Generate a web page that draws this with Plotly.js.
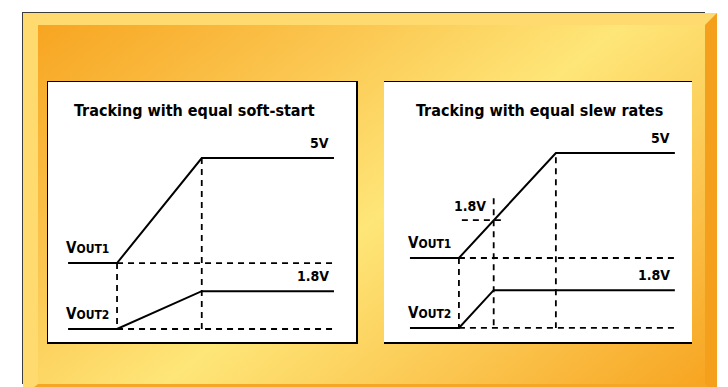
<!DOCTYPE html>
<html>
<head>
<meta charset="utf-8">
<script src="https://cdn.plot.ly/plotly-3.0.1.min.js"></script>
<style>
  html, body { margin:0; padding:0; width:728px; height:387px; overflow:hidden; background:#ffffff; }
  #frame { position:absolute; left:22px; top:12px; width:681px; height:371px;
           border:1px solid #3c3c3c; border-bottom:none; }
  #bevel { position:absolute; left:0; top:0; width:667px; height:359px;
           border-left:15px solid #FEDA6F; border-top:12px solid #FEDA6F;
           border-right:12px solid #F4A01D; border-bottom:12px solid #F6A625;
           background:linear-gradient(142deg, #F7A521 0%, #FBC650 28%, #FEE678 52%, #FBC650 76%, #F7A521 100%); }
  #chart { position:absolute; left:0; top:0; width:728px; height:387px; }
</style>
</head>
<body>
<div id="frame"><div id="bevel"></div></div>
<div id="chart"></div>
<script>
// ---- data (volts vs. time units) ----
const panelTitles = ["Tracking with equal soft-start", "Tracking with equal slew rates"];
const seriesNames = ["VOUT1", "VOUT2"];
const levelLabels = ["5V", "1.8V"];

// Left panel: equal soft-start (both ramps end together)
const tA = [0, 1, 2.73, 5.43];
const vout1A = [0, 0, 5, 5];
const vout2A = [0, 0, 1.8, 1.8];

// Right panel: equal slew rates (VOUT2 reaches 1.8V first)
const tB1 = [0, 1, 2.98, 5.41];
const vout1B = [0, 0, 5, 5];
const tB2 = [0, 1, 1.71, 5.41];
const vout2B = [0, 0, 1.8, 1.8];

// ---- styling / placement ----
const W = 728, H = 387;
const offA = 3.14, offB = 3.33;      // vertical separation of the two traces
const FONT = "'Liberation Sans Narrow', 'DejaVu Sans Condensed', Arial Narrow, sans-serif";
const solid = {color:'#000', width:2};
const dashed = {color:'#000', width:1.8, dash:'6px,5px'};

function add(arr, k){ return arr.map(v => v + k); }
const traces = [];
function line(x, y, ax, ln){
  traces.push({type:'scatter', mode:'lines', x:x, y:y, xaxis:ax[0], yaxis:ax[1],
               line:ln, hoverinfo:'skip', showlegend:false});
}

// Left panel
const axA = ['x','y'];
line(tA, add(vout1A, offA), axA, solid);
line(tA, vout2A, axA, solid);
line([tA[1], tA[3]], [offA + vout1A[1], offA + vout1A[1]], axA, dashed);
line([tA[1], tA[3]], [vout2A[1], vout2A[1]], axA, dashed);
line([tA[1], tA[1]], [offA + vout1A[1], vout2A[1]], axA, dashed);
line([tA[2], tA[2]], [offA + vout1A[2], vout2A[1]], axA, dashed);

// Right panel
const axB = ['x2','y2'];
line(tB1, add(vout1B, offB), axB, solid);
line(tB2, vout2B, axB, solid);
line([tB1[1], tB1[3]], [offB + vout1B[1], offB + vout1B[1]], axB, dashed);
line([tB2[1], tB2[3]], [vout2B[1], vout2B[1]], axB, dashed);
line([tB1[1], tB1[1]], [offB + vout1B[1], vout2B[1]], axB, dashed);
line([tB2[2], tB2[2]], [offB + vout2B[2] + 1.05, vout2B[1]], axB, dashed);
line([tB1[2], tB1[2]], [offB + vout1B[2] - 0.2, vout2B[1]], axB, dashed);
line([tB2[2] - 0.65, tB2[2] + 0.22], [offB + vout2B[2], offB + vout2B[2]], axB, dashed);

function vlabel(name){
  return 'V<span style="font-size:12px">' + name.slice(1) + '</span>';
}
const ann = [];
function txt(text, x, y, xr, yr, xa, ya, xs, ys, size){
  ann.push({text:text, x:x, y:y, xref:xr, yref:yr, xanchor:xa, yanchor:ya,
            xshift:xs||0, yshift:ys||0, showarrow:false,
            font:{family:FONT, size:size||14, color:'#000', weight:'bold'}});
}
// titles
txt('<b>'+panelTitles[0]+'</b>', 0.5, 0.89, 'x domain', 'y domain', 'center', 'middle', -8, 0, 16);
txt('<b>'+panelTitles[1]+'</b>', 0.5, 0.89, 'x2 domain', 'y2 domain', 'center', 'middle', 1, 0, 16);
// left labels
txt('<b>'+levelLabels[0]+'</b>', tA[3], offA + vout1A[3], 'x', 'y', 'right', 'bottom', -3, 5);
txt('<b>'+levelLabels[1]+'</b>', tA[3], vout2A[3], 'x', 'y', 'right', 'bottom', -3, 5);
txt('<b>'+vlabel(seriesNames[0])+'</b>', tA[0], offA + vout1A[0], 'x', 'y', 'left', 'bottom', -4, 4, 15);
txt('<b>'+vlabel(seriesNames[1])+'</b>', tA[0], vout2A[0], 'x', 'y', 'left', 'bottom', -4, 4, 15);
// right labels
txt('<b>'+levelLabels[0]+'</b>', tB1[3], offB + vout1B[3], 'x2', 'y2', 'right', 'bottom', -3, 5);
txt('<b>'+levelLabels[1]+'</b>', tB2[3], vout2B[3], 'x2', 'y2', 'right', 'bottom', -3, 5);
txt('<b>'+levelLabels[1]+'</b>', tB2[2], offB + vout2B[2], 'x2', 'y2', 'right', 'bottom', -6, 4);
txt('<b>'+vlabel(seriesNames[0])+'</b>', tB1[0], offB + vout1B[0], 'x2', 'y2', 'left', 'bottom', -4, 4, 15);
txt('<b>'+vlabel(seriesNames[1])+'</b>', tB2[0], vout2B[0], 'x2', 'y2', 'left', 'bottom', -4, 4, 15);

function axis(dom, rng){
  return {domain:dom, range:rng, showgrid:false, zeroline:false, showticklabels:false,
          ticks:'', showline:true, mirror:true, linecolor:'#000', linewidth:1.5, fixedrange:true};
}
const pLeftA = 48, pRightA = 356, pLeftB = 384, pRightB = 692, pTop = 82, pBot = 342;
const yd = [(H - pBot)/H, (H - pTop)/H];
const layout = {
  width:W, height:H, margin:{l:0, r:0, t:0, b:0},
  paper_bgcolor:'rgba(0,0,0,0)', plot_bgcolor:'#ffffff',
  xaxis: axis([pLeftA/W, pRightA/W], [-0.41, 5.88]),
  yaxis: axis(yd, [-0.62, 11.76]),
  xaxis2: axis([pLeftB/W, pRightB/W], [-0.53, 5.76]),
  yaxis2: axis(yd, [-0.67, 11.71]),
  annotations: ann, showlegend:false
};
Plotly.newPlot('chart', traces, layout, {staticPlot:true, displayModeBar:false});
</script>
</body>
</html>
